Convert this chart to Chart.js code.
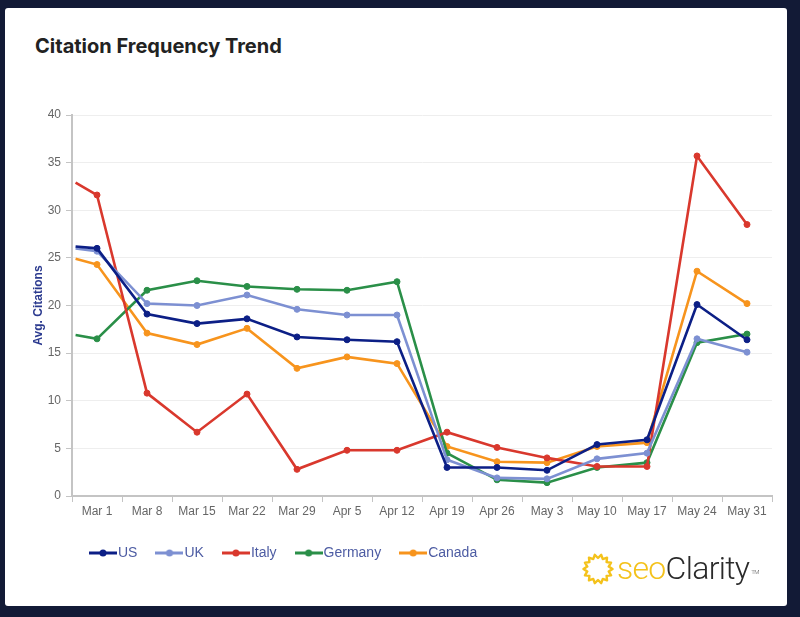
<!DOCTYPE html>
<html>
<head>
<meta charset="utf-8">
<script src="https://cdn.jsdelivr.net/npm/chart.js@4.4.1/dist/chart.umd.min.js"></script>
<style>
  html, body { margin: 0; padding: 0; }
  body { width: 800px; height: 617px; background: #121a36; position: relative; overflow: hidden; }
  #card { position: absolute; left: 5px; top: 8px; width: 782px; height: 598px; background: #fff; border-radius: 3px; }
  #title { position: absolute; left: 30px; top: 26px; margin: 0; font: 700 20px/24px Inter, 'Liberation Sans', sans-serif; color: #222; }
  #wrap { position: absolute; left: 0; top: 62px; width: 782px; height: 536px; }
  #logo { position: absolute; left: 577px; top: 540px; height: 40px; white-space: nowrap; }
  #logo svg { position: absolute; left: 0; top: 5px; }
  #logo .txt { position: absolute; left: 35px; top: 0; font: 300 32px/40px Roboto, sans-serif; letter-spacing: -0.7px; }
  #logo .seo { color: #f4c21b; }
  #logo .cl { color: #2a2a2a; }
  #logo sup { font-size: 6px; vertical-align: top; position: relative; top: 4px; left: 2px; color: #555; }
</style>
</head>
<body>
<div id="card">
  <h2 id="title">Citation Frequency Trend</h2>
  <div id="wrap"><canvas id="chart"></canvas></div>
  <div id="logo">
    <svg id="sun" width="32" height="32" viewBox="0 0 32 32"></svg>
    <span class="txt"><span class="seo">seo</span><span class="cl">Clarity</span><sup>TM</sup></span>
  </div>
</div>
<script>
// week labels and the day each week falls on (days since Mar 1)
const weekLabels = ['Mar 1', 'Mar 8', 'Mar 15', 'Mar 22', 'Mar 29', 'Apr 5', 'Apr 12',
  'Apr 19', 'Apr 26', 'May 3', 'May 10', 'May 17', 'May 24', 'May 31'];
const weekDays = [0, 7, 14, 21, 28, 35, 42, 49, 56, 63, 70, 77, 84, 91];
// the lines start a few days before Mar 1 (no marker on that point)
const pointDays = [-3].concat(weekDays);

const usValues      = [26.2, 26.0, 19.1, 18.1, 18.6, 16.7, 16.4, 16.2, 3.0, 3.0, 2.7, 5.4, 5.9, 20.1, 16.4];
const ukValues      = [26.0, 25.7, 20.2, 20.0, 21.1, 19.6, 19.0, 19.0, 3.8, 1.9, 1.8, 3.9, 4.5, 16.5, 15.1];
const italyValues   = [32.9, 31.6, 10.8, 6.7, 10.7, 2.8, 4.8, 4.8, 6.7, 5.1, 4.0, 3.1, 3.1, 35.7, 28.5];
const germanyValues = [16.9, 16.5, 21.6, 22.6, 22.0, 21.7, 21.6, 22.5, 4.5, 1.7, 1.4, 3.0, 3.5, 16.1, 17.0];
const canadaValues  = [24.9, 24.3, 17.1, 15.9, 17.6, 13.4, 14.6, 13.9, 5.2, 3.6, 3.5, 5.2, 5.6, 23.6, 20.2];

const seriesNames = ['US', 'UK', 'Italy', 'Germany', 'Canada'];
const seriesValues = [usValues, ukValues, italyValues, germanyValues, canadaValues];
const seriesColors = ['#0c1f86', '#7d90d2', '#d9382d', '#2a8f48', '#f7941d'];

// sun icon for the logo
(function () {
  const svg = document.getElementById('sun');
  let d = '';
  const n = 14;
  for (let k = 0; k <= 2 * n; k++) {
    const a = (k * Math.PI) / n;
    const r = k % 2 ? 11 : 14.5;
    const x = 16 + r * Math.cos(a), y = 16 + r * Math.sin(a);
    d += (k ? 'L' : 'M') + x.toFixed(2) + ' ' + y.toFixed(2);
  }
  svg.innerHTML = '<path d="' + d + 'Z" fill="none" stroke="#f4c21b" stroke-width="2.4" stroke-linejoin="round"/>';
})();

// legend swatch: short line with a dot
function swatch(color) {
  const c = document.createElement('canvas');
  c.width = 28; c.height = 10;
  const g = c.getContext('2d');
  g.strokeStyle = color; g.lineWidth = 3;
  g.beginPath(); g.moveTo(0, 5); g.lineTo(28, 5); g.stroke();
  g.fillStyle = color;
  g.beginPath(); g.arc(14, 5, 3.5, 0, Math.PI * 2); g.fill();
  return c;
}

const datasets = seriesNames.map((name, i) => ({
  label: name,
  data: seriesValues[i].map((v, j) => ({ x: pointDays[j], y: v })),
  borderColor: seriesColors[i],
  backgroundColor: seriesColors[i],
  pointBackgroundColor: seriesColors[i],
  pointBorderColor: seriesColors[i],
  borderWidth: 2.6,
  pointBorderWidth: 1,
  pointRadius: pointDays.map((d) => (d < 0 ? 0 : 3)),
  tension: 0,
}));

const legendShift = {
  id: 'legendShift',
  afterLayout(chart) {
    chart.legend.left += 46;
    chart.legend.right += 46;
  },
};

new Chart(document.getElementById('chart'), {
  type: 'line',
  data: { datasets },
  plugins: [legendShift],
  options: {
    responsive: true,
    maintainAspectRatio: false,
    animation: false,
    layout: { padding: { left: 20, right: 15, top: 45, bottom: 36 } },
    plugins: {
      tooltip: { enabled: false },
      legend: {
        position: 'bottom',
        align: 'start',
        labels: {
          usePointStyle: true,
          pointStyleWidth: 16,
          boxHeight: 14,
          padding: 24,
          color: '#4d5ca3',
          font: { family: "'Liberation Sans', Arial, sans-serif", size: 14 },
          generateLabels(chart) {
            return chart.data.datasets.map((ds, i) => ({
              text: ds.label,
              fillStyle: ds.borderColor,
              strokeStyle: ds.borderColor,
              fontColor: '#4d5ca3',
              lineWidth: 0,
              pointStyle: swatch(ds.borderColor),
              datasetIndex: i,
              hidden: false,
            }));
          },
        },
      },
    },
    scales: {
      x: {
        type: 'linear',
        min: -3.5,
        max: 94.5,
        afterBuildTicks(scale) {
          scale.ticks = weekDays.map((v) => ({ value: v }));
        },
        afterFit(scale) { scale.height = 26; },
        border: { display: true, color: '#c4c4c4', width: 2 },
        grid: { offset: true, drawOnChartArea: false, drawTicks: true, tickLength: 6, tickColor: '#c4c4c4' },
        ticks: {
          autoSkip: false,
          maxRotation: 0,
          padding: 2,
          color: '#666',
          font: { family: "'Liberation Sans', Arial, sans-serif", size: 12 },
          callback: (value, index) => weekLabels[index],
        },
      },
      y: {
        min: 0,
        max: 40,
        afterFit(scale) { scale.width = 47; },
        border: { display: true, color: '#c4c4c4', width: 2 },
        grid: { color: '#eeeeee', lineWidth: 1, drawTicks: true, tickLength: 6, tickColor: '#c4c4c4' },
        ticks: {
          stepSize: 5,
          padding: 5,
          color: '#666',
          font: { family: "'Liberation Sans', Arial, sans-serif", size: 12 },
        },
        title: {
          display: true,
          text: 'Avg. Citations',
          color: '#2b3a8f',
          padding: { top: 6, bottom: 0 },
          font: { family: "'Liberation Sans', Arial, sans-serif", size: 12, weight: 'bold' },
        },
      },
    },
  },
});
</script>
</body>
</html>
